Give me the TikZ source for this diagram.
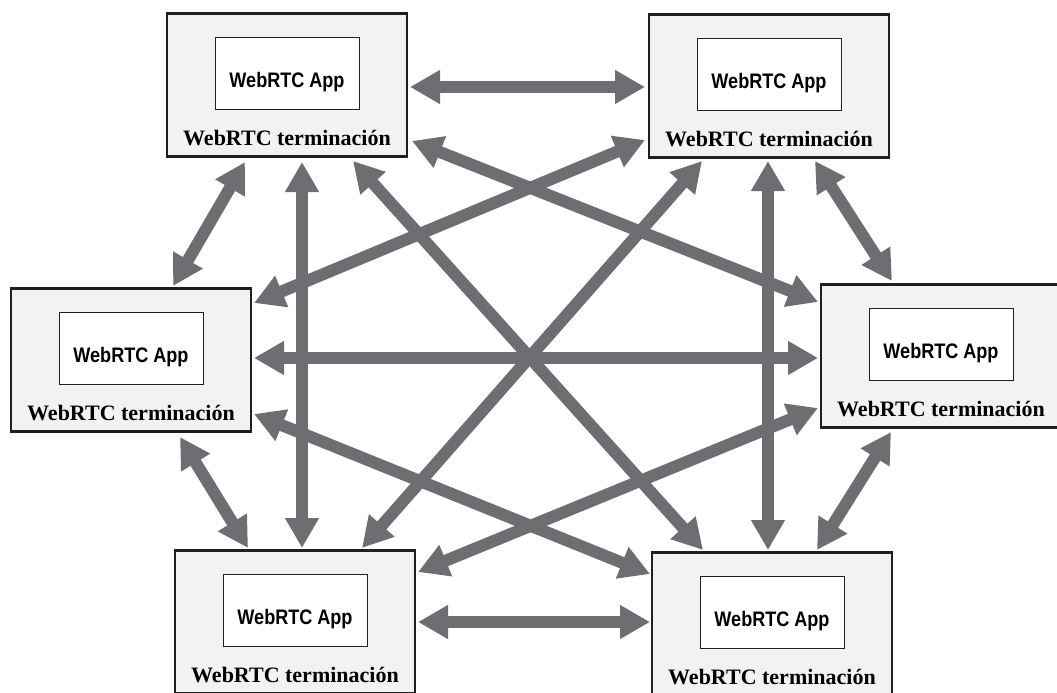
\documentclass[tikz,border=0pt]{standalone}
\usepackage{fontspec}
\setmainfont{Liberation Serif}
\newfontfamily\appfont[FakeStretch=0.86]{Liberation Sans}
\usetikzlibrary{arrows.meta,calc}

\definecolor{linkgray}{HTML}{6D6E71}
\definecolor{boxfill}{HTML}{F1F2F2}
\definecolor{edge}{HTML}{231F20}

\tikzset{
  endpoint/.style={draw=edge, line width=2.2pt, fill=boxfill, outer sep=0pt,
    minimum width=240pt, minimum height=143pt, inner sep=0pt},
  appbox/.style={draw=edge, line width=0.9pt, fill=white, outer sep=0pt,
    minimum width=144pt, minimum height=72pt, inner sep=0pt},
  apptext/.style={anchor=base, inner sep=0pt,
    font=\appfont\bfseries\fontsize{21}{25}\selectfont},
  termtext/.style={anchor=base, inner sep=0pt,
    font=\bfseries\fontsize{22}{26}\selectfont},
  link/.style={draw=linkgray, line width=12pt,
    {Triangle[length=30pt,width=32pt]}-{Triangle[length=30pt,width=32pt]}}
}

\newcommand{\rtcpeer}[2]{%
  \node[endpoint] (#1) at (#2) {};
  \node[appbox] (#1app) at ($(#1)+(0,-12)$) {};
  \node[apptext] (#1apptxt) at ($(#1)+(0,2.5)$) {WebRTC App};
  \node[termtext] (#1term) at ($(#1)+(0,60)$) {WebRTC terminación};
}

\begin{document}
\begin{tikzpicture}[x=1pt,y=-1pt]
  \useasboundingbox (0,0) rectangle (1057,693);
  \clip (0,0) rectangle (1057,693);

  % six WebRTC peers
  \rtcpeer{A}{287,85}
  \rtcpeer{B}{769,86}
  \rtcpeer{C}{131,360}
  \rtcpeer{D}{941,356}
  \rtcpeer{E}{295,622}
  \rtcpeer{F}{772,624}

  % full mesh of bidirectional links
  \draw[link] ($(A)+(123,2)$)   -- ($(B)+(-124,1)$);
  \draw[link] ($(A)+(-42,77)$)  -- ($(C)+(42,-74)$);
  \draw[link] ($(A)+(15,77)$)   -- ($(E)+(7,-74)$);
  \draw[link] ($(A)+(66,76)$)   -- ($(F)+(-69,-74)$);
  \draw[link] ($(A)+(125,56)$)  -- ($(D)+(-123,-54)$);
  \draw[link] ($(B)+(-124,54)$) -- ($(C)+(123,-57)$);
  \draw[link] ($(B)+(-67,75)$)  -- ($(E)+(67,-74)$);
  \draw[link] ($(B)+(-1,75)$)   -- ($(F)+(-4,-74)$);
  \draw[link] ($(B)+(46,75)$)   -- ($(D)+(-49,-75)$);
  \draw[link] ($(C)+(123,-2)$)  -- ($(D)+(-123,2)$);
  \draw[link] ($(C)+(49,77)$)   -- ($(E)+(-47,-74)$);
  \draw[link] ($(C)+(123,54)$)  -- ($(F)+(-122,-50)$);
  \draw[link] ($(D)+(-123,52)$) -- ($(E)+(123,-50)$);
  \draw[link] ($(D)+(-50,76)$)  -- ($(F)+(45,-74)$);
  \draw[link] ($(E)+(123,0)$)   -- ($(F)+(-122,-2)$);
\end{tikzpicture}
\end{document}
